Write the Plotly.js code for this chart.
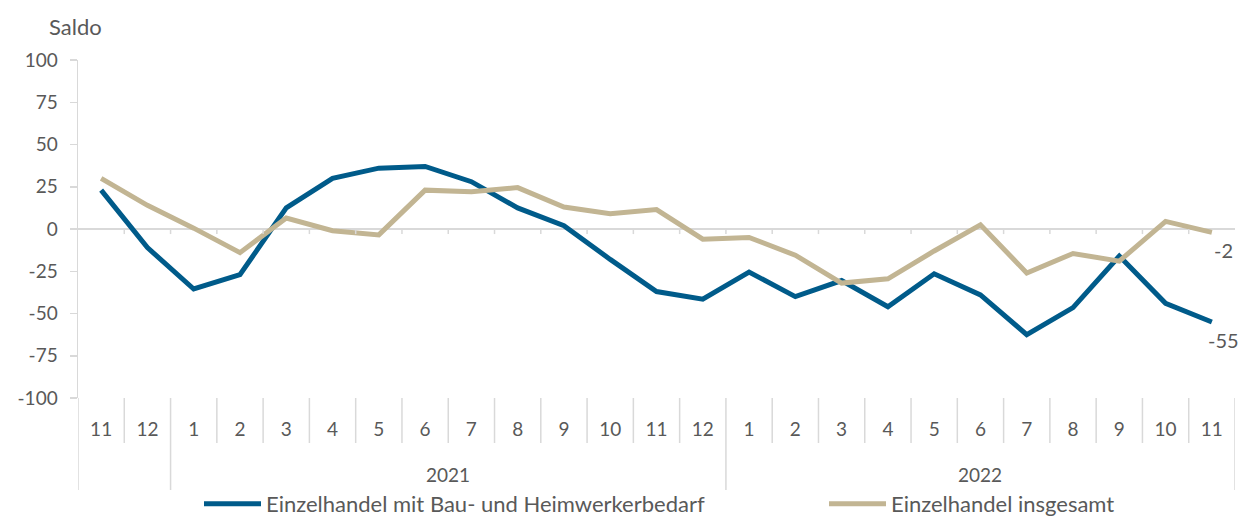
<!DOCTYPE html>
<html>
<head>
<meta charset="utf-8">
<script src="https://cdn.plot.ly/plotly-3.0.1.min.js"></script>
<style>html,body{margin:0;padding:0;background:#fff;}#chart{width:1241px;height:520px;}</style>
</head>
<body>
<div id="chart"></div>
<script>
const years = ['', '',
  '2021','2021','2021','2021','2021','2021','2021','2021','2021','2021','2021','2021',
  '2022','2022','2022','2022','2022','2022','2022','2022','2022','2022','2022'];
const months = ['11','12','1','2','3','4','5','6','7','8','9','10','11','12',
  '1','2','3','4','5','6','7','8','9','10','11'];
const bauHeimwerker = [23, -11, -35.5, -27, 12.5, 30, 36, 37, 28, 12.5, 2, -18, -37, -41.5,
  -25.5, -40, -30.5, -46, -26.5, -39, -62.5, -46.5, -16, -44, -55];
const insgesamt = [30, 14, 0.5, -14, 6.5, -1, -3.5, 23, 22, 24.5, 13, 9, 11.5, -6,
  -5, -15.5, -32, -29.5, -13, 2.5, -26, -14.5, -19, 4.5, -2];
const seriesNames = ['Einzelhandel mit Bau- und Heimwerkerbedarf', 'Einzelhandel insgesamt'];
const yTickVals = [100, 75, 50, 25, 0, -25, -50, -75, -100];
const yTickLabels = ['100', '75', '50', '25', '0', '-25', '-50', '-75', '-100'];
const colors = ['#005b8a', '#c2b593'];

const FONT = 'Lato, "Open Sans", sans-serif';
const GREY = '#595959';
const AXISC = '#d9d9d9';

const n = months.length;
const idx = months.map((_, i) => i);

const traces = [
  {x: idx, y: bauHeimwerker, name: seriesNames[0], type: 'scatter', mode: 'lines',
   line: {color: colors[0], width: 5}, hoverinfo: 'none', legend: 'legend'},
  {x: idx, y: insgesamt, name: seriesNames[1], type: 'scatter', mode: 'lines',
   line: {color: colors[1], width: 5}, hoverinfo: 'none', legend: 'legend2'}
];

// separators between categories & year groups
const shapes = [];
const annotations = [];
const shortY = -45 / 338, longY = -92 / 338;
for (let b = -0.5; b <= n - 0.5; b += 1) {
  const i = b + 0.5; // index of category to the right
  const isGroupEdge = (i === 0) || (i === n) || (years[i] !== years[i - 1]);
  shapes.push({type: 'line', xref: 'x', yref: 'paper', x0: b, x1: b, y0: 0, y1: isGroupEdge ? longY : shortY,
    line: {color: AXISC, width: 1.5}});
  if (i > 0 && i < n) {
    shapes.push({type: 'line', xref: 'x', yref: 'y', x0: b, x1: b, y0: 0, y1: -3,
      line: {color: AXISC, width: 1.5}});
  }
}
// year labels
const groups = {};
years.forEach((yv, i) => { if (yv) { (groups[yv] = groups[yv] || []).push(i); } });
Object.keys(groups).forEach(yv => {
  const g = groups[yv];
  annotations.push({text: yv, xref: 'x', yref: 'paper', x: (g[0] + g[g.length - 1]) / 2, y: -76 / 338,
    xanchor: 'center', yanchor: 'middle', showarrow: false, font: {family: FONT, size: 19, color: GREY}});
});
// end labels
[bauHeimwerker, insgesamt].forEach(arr => {
  const v = arr[arr.length - 1];
  annotations.push({text: String(v), xref: 'x', yref: 'y', x: n - 1, y: v, xshift: 12, yshift: -4,
    xanchor: 'center', yanchor: 'top', showarrow: false, font: {family: FONT, size: 20, color: GREY}});
});
annotations.push({text: 'Saldo', xref: 'paper', yref: 'paper', x: -0.027, y: 1.1,
  xanchor: 'left', yanchor: 'middle', showarrow: false, font: {family: FONT, size: 22, color: GREY}});

const legendBase = {orientation: 'h', xref: 'container', yref: 'container', xanchor: 'left',
  y: 1 - 504 / 520, yanchor: 'middle', font: {family: FONT, size: 22, color: GREY}, itemwidth: 57,
  bgcolor: 'rgba(0,0,0,0)'};

const layout = {
  width: 1241, height: 520,
  margin: {l: 78, r: 6, t: 60, b: 122, autoexpand: false},
  paper_bgcolor: '#fff', plot_bgcolor: '#fff',
  font: {family: FONT, color: GREY, size: 18},
  showlegend: true,
  legend: Object.assign({}, legendBase, {x: 199 / 1241}),
  legend2: Object.assign({}, legendBase, {x: 824 / 1241}),
  xaxis: {range: [-0.5, n - 0.5], showline: false, showgrid: false, zeroline: false,
    tickvals: idx, ticktext: months, ticks: '', ticklabelstandoff: 18,
    tickfont: {family: FONT, size: 19, color: GREY}},
  yaxis: {range: [-100, 100], tickvals: yTickVals, ticktext: yTickLabels, showgrid: false, zeroline: true,
    zerolinecolor: AXISC, zerolinewidth: 2, showline: true, linecolor: AXISC, linewidth: 1.5,
    ticks: 'outside', ticklen: 7, tickcolor: AXISC, tickwidth: 1.5, ticklabelstandoff: 8,
    tickfont: {family: FONT, size: 19, color: GREY}},
  shapes: shapes,
  annotations: annotations
};

Plotly.newPlot('chart', traces, layout, {staticPlot: true, displayModeBar: false});
</script>
</body>
</html>
